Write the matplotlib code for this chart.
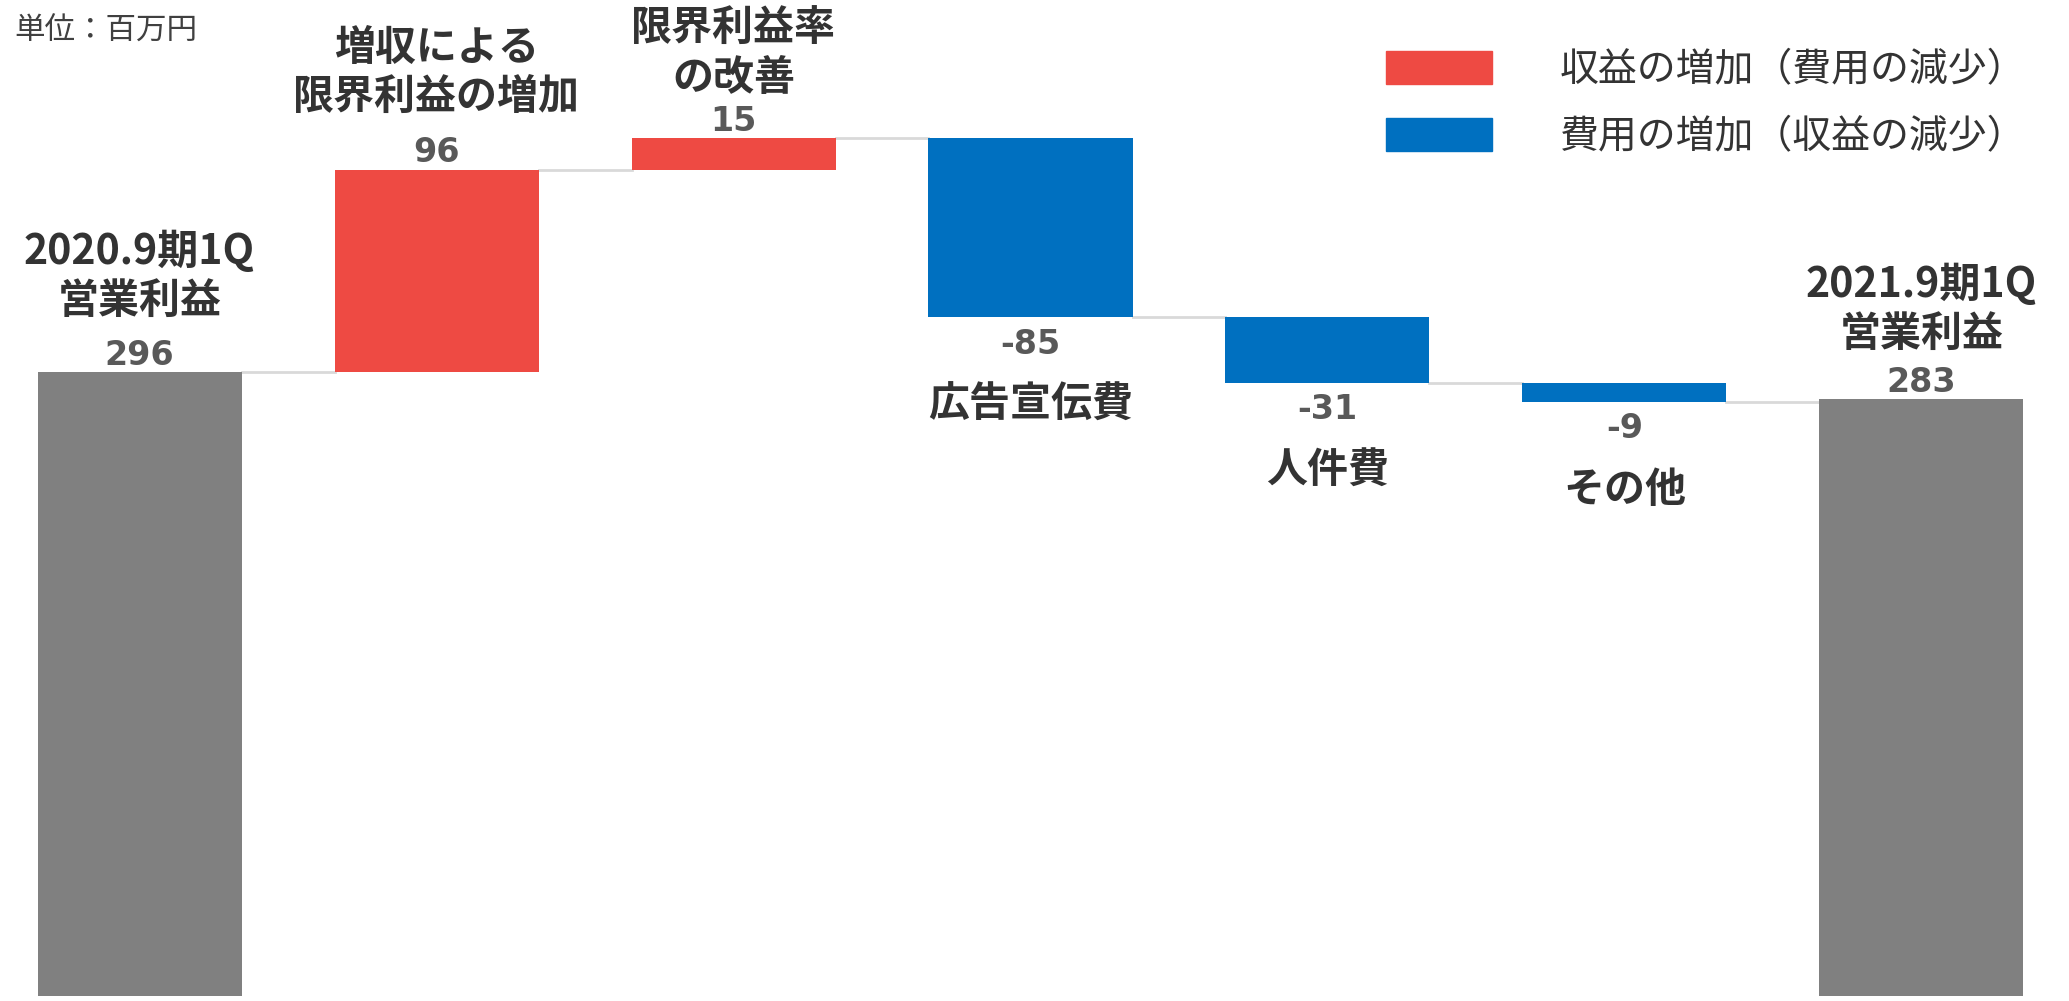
import matplotlib
matplotlib.use("Agg")
import matplotlib.pyplot as plt
from matplotlib.patches import Patch
from matplotlib.transforms import offset_copy

plt.rcParams['font.family'] = ['Noto Sans CJK JP', 'DejaVu Sans']

# data
labels = ["2020.9期1Q\n営業利益", "増収による\n限界利益の増加", "限界利益率\nの改善",
          "広告宣伝費", "人件費", "その他", "2021.9期1Q\n営業利益"]
values = [296, 96, 15, -85, -31, -9, 283]
kinds = ["total", "delta", "delta", "delta", "delta", "delta", "total"]
legend_labels = ["収益の増加（費用の減少）", "費用の増加（収益の減少）"]

GRAY = "#808080"
RED = "#EE4A43"
BLUE = "#0070C0"
LINE = "#D9D9D9"
TXT = "#333333"
NUM = "#595959"

# label placement (pixels from bar edge)
cat_offset = [96, 97, 85, 88, 88, 88, 90]

fig = plt.figure(figsize=(20.69, 10.01), dpi=100)
ax = fig.add_axes([0, 0, 1, 1])
ax.set_xlim(-0.47, 6.497)
ax.set_ylim(-2.4, 472.5)
ax.axis("off")

w = 0.687
bottoms, tops = [], []
level = 0
for i, (v, k) in enumerate(zip(values, kinds)):
    if k == "total":
        b, t = 0, v
        level = v
        c = GRAY
    else:
        b, t = (level, level + v) if v > 0 else (level + v, level)
        level += v
        c = RED if v > 0 else BLUE
    ax.bar(i, t - b, bottom=b, width=w, color=c, zorder=2)
    bottoms.append(b)
    tops.append(t)

# connector lines
level = 0
for i, (v, k) in enumerate(zip(values, kinds)):
    level = v if k == "total" else level + v
    if i < len(values) - 1:
        ax.plot([i + w / 2, i + 1 - w / 2], [level, level], color=LINE, lw=2, zorder=1)

# labels
for i, (v, k) in enumerate(zip(values, kinds)):
    up = k == "total" or v > 0
    y = tops[i] if up else bottoms[i]
    num_tr = offset_copy(ax.transData, fig=fig, x=0, y=17 if up else -27, units="dots")
    ax.text(i, y, f"{v}", transform=num_tr, ha="center", va="center",
            fontsize=24, fontweight="bold", color=NUM, family="DejaVu Sans")
    dy = cat_offset[i] if up else -cat_offset[i]
    cat_tr = offset_copy(ax.transData, fig=fig, x=0, y=dy, units="dots")
    ax.text(i, y, labels[i], transform=cat_tr, ha="center", va="center",
            fontsize=29.5, fontweight="bold", color=TXT, linespacing=1.22)

fig.text(14 / 2069, 1 - 31 / 1001, "単位：百万円", fontsize=22, color="#404040",
         ha="left", va="center")

handles = [Patch(color=RED), Patch(color=BLUE)]
ax.legend(handles, legend_labels, loc="upper left", bbox_to_anchor=(1386 / 2069, 1 - 50 / 1001),
          bbox_transform=fig.transFigure, frameon=False, fontsize=28, handlelength=2.72,
          handleheight=0.92, handletextpad=1.75, labelspacing=0.7, borderpad=0,
          borderaxespad=0, labelcolor="#333333")

fig.savefig("out.png", dpi=100)
